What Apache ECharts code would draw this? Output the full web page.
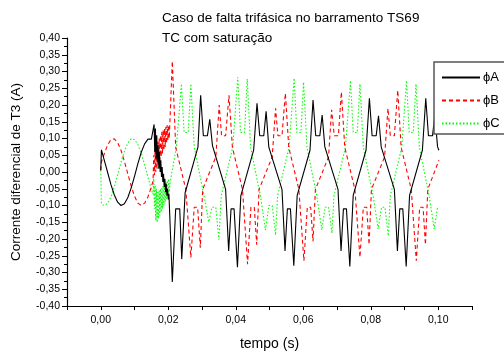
<!DOCTYPE html>
<html>
<head>
<meta charset="utf-8">
<script src="https://cdn.jsdelivr.net/npm/echarts@6/dist/echarts.min.js"></script>
<style>
  html, body { margin: 0; padding: 0; background: #fff; }
  #chart { width: 504px; height: 356px; }
</style>
</head>
<body>
<div id="chart"></div>
<script>
// time (s) / differential current (A)
const phaseA = [
  [0, 0.005], [0.0002, 0.066], [0.001, 0.037], [0.002, 0.0], [0.003, -0.037], [0.004, -0.068],
  [0.005, -0.09], [0.006, -0.1], [0.007, -0.095], [0.008, -0.077], [0.009, -0.048], [0.010, -0.013],
  [0.011, 0.025], [0.012, 0.059], [0.013, 0.084], [0.014, 0.098], [0.015, 0.098], [0.0155, 0.093],
  [0.0158, 0.142], [0.0160, 0.06], [0.0162, 0.13], [0.0164, 0.04], [0.0166, 0.11], [0.0168, 0.03],
  [0.0170, 0.08], [0.0172, 0.01], [0.0174, 0.06], [0.0176, 0.0], [0.0178, 0.035], [0.0180, -0.015],
  [0.0182, 0.015], [0.0184, -0.03], [0.0186, -0.005], [0.0188, -0.045], [0.0190, -0.02], [0.0192, -0.06],
  [0.0194, -0.035], [0.0196, -0.07], [0.0198, -0.05], [0.0200, -0.082], [0.0202, -0.065],
  [0.0212, -0.328], [0.0222, -0.11], [0.0234, -0.11], [0.0240, -0.26], [0.0250, -0.062], [0.0288, 0.074],
  [0.0296, 0.229], [0.0304, 0.108], [0.0316, 0.108], [0.0323, 0.157], [0.0331, 0.079], [0.0370, -0.052],
  [0.0379, -0.236], [0.0386, -0.11], [0.0395, -0.11], [0.0405, -0.284], [0.0415, -0.071], [0.0453, 0.065],
  [0.0463, 0.205], [0.0471, 0.108], [0.0483, 0.108], [0.0490, 0.181], [0.0498, 0.074], [0.0537, -0.052],
  [0.0546, -0.236], [0.0553, -0.11], [0.0562, -0.11], [0.0572, -0.28], [0.0582, -0.07], [0.0620, 0.065],
  [0.0629, 0.215], [0.0637, 0.108], [0.0649, 0.108], [0.0656, 0.17], [0.0664, 0.075], [0.0703, -0.052],
  [0.0712, -0.236], [0.0719, -0.11], [0.0728, -0.11], [0.0738, -0.282], [0.0748, -0.07], [0.0786, 0.065],
  [0.0796, 0.22], [0.0804, 0.108], [0.0816, 0.108], [0.0823, 0.168], [0.0831, 0.075], [0.0870, -0.052],
  [0.0879, -0.236], [0.0886, -0.11], [0.0895, -0.11], [0.0905, -0.282], [0.0915, -0.07], [0.0953, 0.065],
  [0.0963, 0.22], [0.0971, 0.108], [0.0983, 0.108], [0.0990, 0.17], [0.0998, 0.075], [0.1002, 0.065]
];

const phaseB = [
  [0, 0.005], [0.0002, 0.03], [0.001, 0.053], [0.002, 0.08], [0.003, 0.097], [0.004, 0.099],
  [0.005, 0.088], [0.006, 0.065], [0.007, 0.032], [0.008, -0.005], [0.009, -0.041], [0.010, -0.072],
  [0.011, -0.093], [0.012, -0.1], [0.013, -0.093], [0.014, -0.074], [0.015, -0.044], [0.0155, -0.026],
  [0.0157, 0.05], [0.0159, -0.01], [0.0161, 0.07], [0.0163, 0.0], [0.0165, 0.08], [0.0167, 0.01],
  [0.0169, 0.09], [0.0171, 0.025], [0.0173, 0.10], [0.0175, 0.035], [0.0177, 0.11], [0.0179, 0.045],
  [0.0181, 0.12], [0.0183, 0.055], [0.0185, 0.125], [0.0187, 0.065], [0.0189, 0.13], [0.0191, 0.075],
  [0.0193, 0.135], [0.0195, 0.085], [0.0197, 0.14], [0.0199, 0.095], [0.0201, 0.14], [0.0203, 0.10],
  [0.0212, 0.331], [0.0222, 0.074], [0.0252, -0.052], [0.0267, -0.255], [0.0277, -0.105], [0.0287, -0.105],
  [0.0295, -0.226], [0.0302, -0.052], [0.0341, 0.045], [0.0351, 0.2], [0.0358, 0.108], [0.0370, 0.108],
  [0.0380, 0.229], [0.0390, 0.074], [0.0420, -0.052], [0.0435, -0.275], [0.0445, -0.105], [0.0455, -0.105],
  [0.0462, -0.217], [0.0469, -0.052], [0.0508, 0.045], [0.0518, 0.19], [0.0525, 0.108], [0.0537, 0.108],
  [0.0547, 0.235], [0.0557, 0.074], [0.0587, -0.052], [0.0602, -0.265], [0.0612, -0.105], [0.0622, -0.105],
  [0.0629, -0.207], [0.0636, -0.052], [0.0675, 0.045], [0.0684, 0.186], [0.0692, 0.108], [0.0704, 0.108],
  [0.0713, 0.239], [0.0723, 0.074], [0.0753, -0.052], [0.0768, -0.255], [0.0778, -0.105], [0.0788, -0.105],
  [0.0795, -0.217], [0.0802, -0.052], [0.0841, 0.045], [0.0851, 0.19], [0.0858, 0.108], [0.0870, 0.108],
  [0.0880, 0.244], [0.0890, 0.074], [0.0920, -0.052], [0.0935, -0.265], [0.0945, -0.105], [0.0955, -0.105],
  [0.0962, -0.217], [0.0969, -0.052], [0.1002, 0.035]
];

const phaseC = [
  [0, 0.005], [0.0002, -0.095], [0.001, -0.1], [0.002, -0.094], [0.003, -0.075], [0.004, -0.045],
  [0.005, -0.009], [0.006, 0.029], [0.007, 0.062], [0.008, 0.086], [0.009, 0.099], [0.010, 0.097],
  [0.011, 0.082], [0.012, 0.056], [0.013, 0.021], [0.014, -0.016], [0.015, -0.052], [0.0155, -0.067],
  [0.0157, -0.02], [0.0159, -0.11], [0.0161, -0.04], [0.0163, -0.145], [0.0165, -0.05], [0.0167, -0.15],
  [0.0169, -0.06], [0.0171, -0.14], [0.0173, -0.055], [0.0175, -0.13], [0.0177, -0.05], [0.0179, -0.12],
  [0.0181, -0.045], [0.0183, -0.11], [0.0185, -0.04], [0.0187, -0.10], [0.0189, -0.035], [0.0191, -0.09],
  [0.0193, -0.03], [0.0195, -0.08], [0.0197, -0.025], [0.0199, -0.07], [0.0201, -0.02], [0.0203, -0.06],
  [0.0205, -0.035], [0.0224, 0.074],
  [0.0239, 0.263], [0.0247, 0.118], [0.0259, 0.118], [0.0267, 0.263], [0.0277, 0.074], [0.0306, -0.071],
  [0.0320, -0.149], [0.0330, -0.105], [0.0341, -0.105], [0.0350, -0.202], [0.0357, -0.071], [0.0391, 0.074],
  [0.0406, 0.283], [0.0414, 0.118], [0.0426, 0.118], [0.0434, 0.278], [0.0444, 0.074], [0.0473, -0.071],
  [0.0488, -0.173], [0.0498, -0.1], [0.0508, -0.1], [0.0518, -0.188], [0.0524, -0.071], [0.0558, 0.074],
  [0.0573, 0.28], [0.0581, 0.118], [0.0593, 0.118], [0.0601, 0.268], [0.0611, 0.074], [0.0640, -0.071],
  [0.0655, -0.173], [0.0665, -0.105], [0.0675, -0.105], [0.0685, -0.183], [0.0691, -0.071], [0.0725, 0.074],
  [0.0740, 0.273], [0.0748, 0.118], [0.0760, 0.118], [0.0768, 0.263], [0.0778, 0.074], [0.0807, -0.071],
  [0.0822, -0.17], [0.0832, -0.105], [0.0842, -0.105], [0.0852, -0.19], [0.0858, -0.071], [0.0892, 0.074],
  [0.0906, 0.273], [0.0914, 0.118], [0.0926, 0.118], [0.0934, 0.263], [0.0944, 0.074], [0.0973, -0.071],
  [0.0988, -0.17], [0.0998, -0.105], [0.1002, -0.105]
];

const seriesNames = ["\u03d5A", "\u03d5B", "\u03d5C"];
const titleText = "Caso de falta trifásica no barramento TS69\nTC com saturação";

const font = "Liberation Sans, Arial, sans-serif";
const comma = (v) => v.toFixed(2).replace(".", ",");

const chart = echarts.init(document.getElementById("chart"), null, { renderer: "canvas" });

let option = {
  animation: false,
  backgroundColor: "#fff",
  title: {
    text: titleText,
    left: 162,
    top: 8,
    padding: 0,
    textStyle: { fontFamily: font, fontSize: 13.5, fontWeight: "normal", color: "#000", lineHeight: 20 }
  },
  grid: { left: 67, right: 32, top: 38, bottom: 43 },
  legend: {
    orient: "vertical",
    left: 436,
    top: 66,
    itemWidth: 38,
    itemHeight: 12,
    itemGap: 10,
    data: seriesNames,
    itemStyle: { opacity: 0 },
    textStyle: { fontFamily: font, fontSize: 13, color: "#000", padding: [0, 0, 0, -2] },
    z: 10
  },
  graphic: [
    {
      type: "rect",
      z: 8,
      shape: { x: 434, y: 62, width: 90, height: 72 },
      style: { fill: "#fff", stroke: "#555", lineWidth: 1.5 }
    }
  ],
  xAxis: {
    type: "value",
    min: -0.01,
    max: 0.11,
    interval: 0.01,
    name: "tempo (s)",
    nameLocation: "middle",
    nameGap: 31,
    nameTextStyle: { fontFamily: font, fontSize: 14, color: "#000" },
    axisLine: { show: true, onZero: false, lineStyle: { color: "#000", width: 1.2 } },
    axisTick: { show: true, length: 4, lineStyle: { color: "#000" } },
    axisLabel: {
      fontFamily: font, fontSize: 10.5, color: "#000", margin: 9,
      formatter: (v) => (Math.round(v * 100) % 2 === 0 ? comma(v) : "")
    },
    splitLine: { show: false }
  },
  yAxis: {
    type: "value",
    min: -0.4,
    max: 0.4,
    interval: 0.05,
    name: "Corrente diferencial de T3 (A)",
    nameLocation: "middle",
    nameGap: 44,
    nameTextStyle: { fontFamily: font, fontSize: 13.5, color: "#000" },
    axisLine: { show: true, onZero: false, lineStyle: { color: "#000", width: 1.2 } },
    axisTick: { show: true, length: 5, lineStyle: { color: "#000" } },
    minorTick: { show: true, splitNumber: 2, length: 3, lineStyle: { color: "#000" } },
    axisLabel: { fontFamily: font, fontSize: 10.5, color: "#000", margin: 7, formatter: comma },
    splitLine: { show: false }
  },
  series: [
    {
      name: seriesNames[0], type: "line", data: phaseA, symbol: "none", z: 3,
      lineStyle: { color: "#000", width: 1.1, type: "solid" }, itemStyle: { color: "#000" }
    },
    {
      name: seriesNames[1], type: "line", data: phaseB, symbol: "none", z: 2,
      lineStyle: { color: "#ff0000", width: 1.1, type: [4, 3] }, itemStyle: { color: "#ff0000" }
    },
    {
      name: seriesNames[2], type: "line", data: phaseC, symbol: "none", z: 1,
      lineStyle: { color: "#00ff00", width: 1.1, type: [1.5, 2] }, itemStyle: { color: "#00ff00" }
    }
  ]
};

chart.setOption(option);
</script>
</body>
</html>
